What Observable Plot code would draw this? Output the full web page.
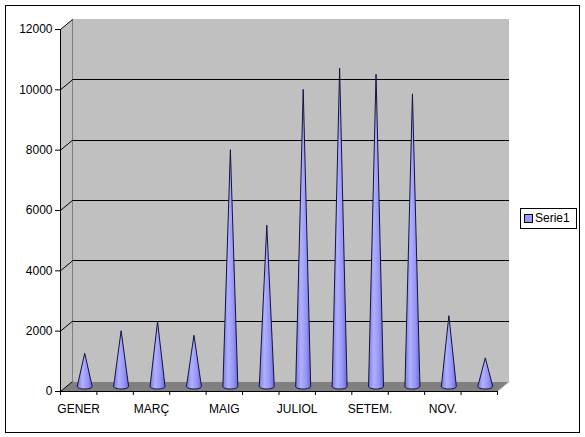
<!DOCTYPE html>
<html>
<head>
<meta charset="utf-8">
<script src="https://cdn.jsdelivr.net/npm/d3@7"></script>
<script src="https://cdn.jsdelivr.net/npm/@observablehq/plot@0.6"></script>
<style>
  html, body { margin: 0; padding: 0; background: #fff; }
  #wrap { position: relative; width: 585px; height: 437px; overflow: hidden; font-family: "Liberation Sans", Arial, sans-serif; }
  #border { position: absolute; left: 5px; top: 5px; width: 573px; height: 426px; border: 1px solid #000; pointer-events: none; }
  #legend { position: absolute; left: 520px; top: 208px; width: 55px; height: 19px; border: 1px solid #000; background: #fff; font-size: 12px; }
  #legend .sw { position: absolute; left: 3px; top: 5px; width: 7px; height: 7px; background: #9999FF; border: 1px solid #000; }
  #legend .lb { position: absolute; left: 14px; top: 2px; }
  svg { position: absolute; left: 0; top: 0; }
</style>
</head>
<body>
<div id="wrap">
  <div id="chart"></div>
  <div id="border"></div>
  <div id="legend"><div class="sw"></div><div class="lb">Serie1</div></div>
</div>
<script>
const months = ["GENER", "FEBRER", "MARÇ", "ABRIL", "MAIG", "JUNY", "JULIOL", "AGOST", "SETEM.", "OCTUBRE", "NOV.", "DESEMBRE"];
const serie1 = [1100, 1850, 2150, 1700, 7850, 5350, 9850, 10550, 10350, 9700, 2350, 950];
const yTicks = [0, 2000, 4000, 6000, 8000, 10000, 12000];
const seriesName = "Serie1";

// oblique 3D depth offsets expressed in data units
const KX = 0.33;   // months
const KY = 331;    // value units
const YMAX = 12000;
const NX = months.length;

const poly = (pts, opts) => Plot.line(pts, {x: "x", y: "y", curve: "linear-closed", ...opts});

// cone geometry derived from data
const hw = 0.206, ry = 83;
const conePts = [];
serie1.forEach((v, i) => {
  const cx = i + 0.5 + KX / 2, base = KY / 2, tip = v + base;
  conePts.push({m: months[i], x: cx - hw, y: base});
  conePts.push({m: months[i], x: cx, y: tip});
  conePts.push({m: months[i], x: cx + hw, y: base});
  for (let k = 1; k < 16; k++) {
    const t = Math.PI * k / 16;
    conePts.push({m: months[i], x: cx + hw * Math.cos(t), y: base - ry * Math.sin(t)});
  }
});

const defsMark = () => {
  const defs = d3.create("svg:defs");
  const g = defs.append("linearGradient").attr("id", "coneGrad").attr("x1", "0").attr("x2", "1").attr("y1", "0").attr("y2", "0");
  g.append("stop").attr("offset", "0%").attr("stop-color", "#7A7AE6");
  g.append("stop").attr("offset", "35%").attr("stop-color", "#B0B0FF");
  g.append("stop").attr("offset", "70%").attr("stop-color", "#9595F8");
  g.append("stop").attr("offset", "100%").attr("stop-color", "#6868D4");
  return defs.node();
};

const crisp = {shapeRendering: "crispEdges"};

const chart = Plot.plot({
  width: 585,
  height: 437,
  marginLeft: 60,
  marginRight: 76,
  marginTop: 19,
  marginBottom: 46,
  style: {fontFamily: "'Liberation Sans', Arial, sans-serif", fontSize: "12px", background: "transparent", color: "#000"},
  x: {type: "linear", domain: [0, NX + KX], axis: null},
  y: {type: "linear", domain: [0, YMAX + KY], axis: null},
  marks: [
    defsMark,
    // back wall
    Plot.rect([0], {x1: KX, x2: NX + KX, y1: KY, y2: YMAX + KY, fill: "#C0C0C0", ...crisp}),
    // side wall
    poly([{x: 0, y: 0}, {x: KX, y: KY}, {x: KX, y: YMAX + KY}, {x: 0, y: YMAX}], {fill: "#C0C0C0", stroke: "none"}),
    // floor
    poly([{x: 0, y: 0}, {x: NX, y: 0}, {x: NX + KX, y: KY}, {x: KX, y: KY}], {fill: "#808080", stroke: "none"}),
    // back wall left edge
    Plot.ruleX([KX], {y1: KY, y2: YMAX + KY, stroke: "#808080", ...crisp}),
    // gridlines on back wall
    Plot.ruleY(yTicks.slice(1, -1), {y: d => d + KY, x1: KX, x2: NX + KX, stroke: "#000", ...crisp}),
    // gridlines on side wall
    Plot.link(yTicks, {x1: 0, y1: d => d, x2: KX, y2: d => d + KY, stroke: "#000"}),
    // floor right edge
    Plot.link([0], {x1: NX, y1: 0, x2: NX + KX, y2: KY, stroke: "#C8C8C8"}),
    // cones
    Plot.line(conePts, {x: "x", y: "y", z: "m", curve: "linear-closed", fill: "url(#coneGrad)", stroke: "#14143C", strokeWidth: 1}),
    // axes
    Plot.ruleX([0], {y1: 0, y2: YMAX, stroke: "#000", ...crisp}),
    Plot.ruleY([0], {x1: 0, x2: NX, stroke: "#000", ...crisp}),
    Plot.axisY({ticks: yTicks, label: null, tickSize: 5, tickPadding: 3, tickFormat: d3.format("d"), fontSize: 12, fill: "#000", stroke: "#000"}),
    Plot.axisX({ticks: d3.range(NX + 1), label: null, tickSize: 4, tickFormat: () => "", stroke: "#000"}),
    Plot.text(months.map((m, i) => ({m, i})).filter(d => d.i % 2 === 0), {x: d => d.i + 0.5, y: 0, text: "m", dy: 18, fill: "#000", fontSize: 12})
  ]
});
document.getElementById("chart").appendChild(chart);
</script>
</body>
</html>
